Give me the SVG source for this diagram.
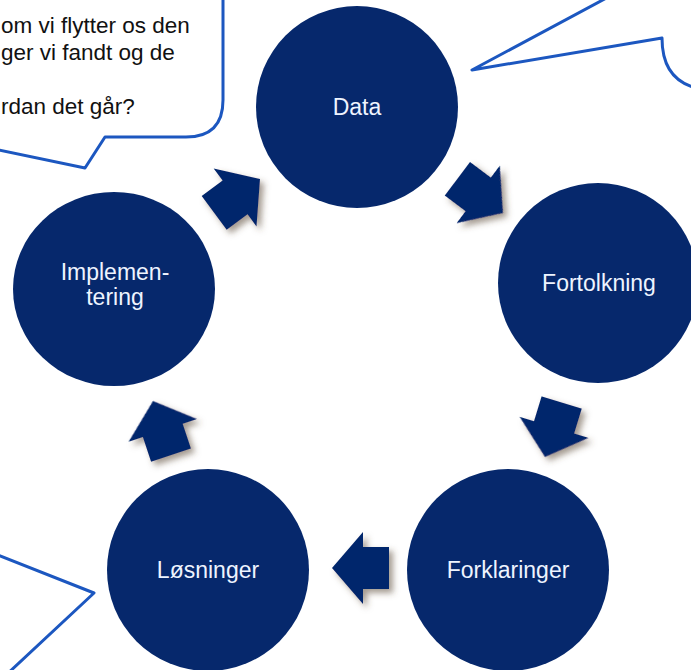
<svg xmlns="http://www.w3.org/2000/svg" width="691" height="670" viewBox="0 0 691 670">
<defs>
<style>
.node{fill:#06286c}
.lbl{font-family:"Liberation Sans",Arial,sans-serif;font-size:23px;fill:#eef4ff;text-anchor:middle}
.call{fill:#ffffff;stroke:#1c57c0;stroke-width:3;stroke-linejoin:round}
.ctext{font-family:"Liberation Sans",Arial,sans-serif;font-size:22.5px;fill:#111111}
.arrow{fill:#06286c}
</style>
<filter id="sh" x="-20%" y="-20%" width="140%" height="140%">
<feDropShadow dx="4" dy="4" stdDeviation="3" flood-color="#5a4838" flood-opacity="0.55"/>
</filter>
<polygon id="blk" points="0,0 -31,-36 -31,-21 -57,-21 -57,21 -31,21 -31,36"/>
</defs>
<rect width="691" height="670" fill="#ffffff"/>

<g id="callout-topleft">
<path class="call" d="M -60,137 L -60,-20 L 223,-20 L 223,100 Q 223,137 186,137 L 105,137 L 85,168 L -120,125"/>
<text class="ctext" x="1" y="33">om vi flytter os den</text>
<text class="ctext" x="1" y="60">ger vi fandt og de</text>
<text class="ctext" x="1" y="114">rdan det går?</text>
</g>

<g id="callout-topright">
<path class="call" d="M 640,-20 L 472,70 L 662,38 Q 662,88 712,90 L 712,-20 Z"/>
</g>

<g id="callout-bottomleft">
<path class="call" d="M -40,540 L 94,593 L -10,690 L -40,690 Z"/>
</g>

<g id="node-data">
<circle class="node" cx="357" cy="107" r="101"/>
<text class="lbl" x="357" y="115">Data</text>
</g>
<g id="node-fortolkning">
<circle class="node" cx="598" cy="283" r="100"/>
<text class="lbl" x="599" y="291">Fortolkning</text>
</g>
<g id="node-forklaringer">
<circle class="node" cx="508" cy="570" r="101"/>
<text class="lbl" x="508" y="578">Forklaringer</text>
</g>
<g id="node-losninger">
<circle class="node" cx="208" cy="570" r="101"/>
<text class="lbl" x="208" y="578">Løsninger</text>
</g>
<g id="node-implementering">
<ellipse class="node" cx="114" cy="289" rx="101" ry="97"/>
<text class="lbl" x="115" y="280">Implemen-</text>
<text class="lbl" x="115" y="305">tering</text>
</g>

<g id="connectors" filter="url(#sh)">
<use href="#blk" class="arrow" transform="translate(260,179) rotate(-36.5)"/>
<use href="#blk" class="arrow" transform="translate(503,213) rotate(36.9)"/>
<use href="#blk" class="arrow" transform="translate(545,457) rotate(107)"/>
<use href="#blk" class="arrow" transform="translate(332,568) rotate(180)"/>
<use href="#blk" class="arrow" transform="translate(153,401) rotate(-108.4)"/>
</g>
</svg>
